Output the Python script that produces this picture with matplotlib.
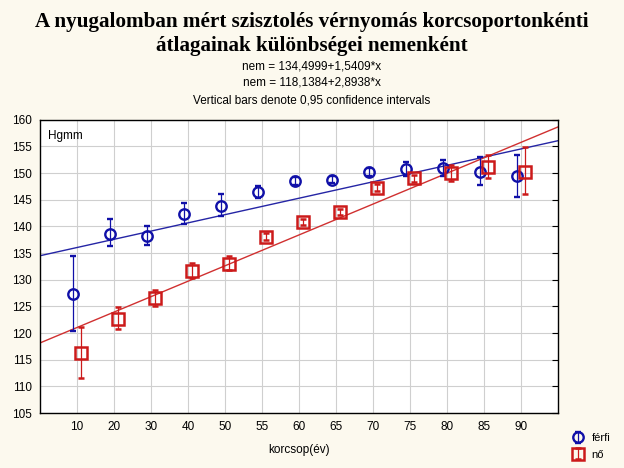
import matplotlib
matplotlib.use("Agg")
import matplotlib.pyplot as plt
import numpy as np

plt.rcParams["font.family"] = ["Liberation Sans", "DejaVu Sans"]

categories = ["10", "20", "30", "40", "50", "55", "60", "65", "70", "75", "80", "85", "90"]
men_mean = [127.3, 138.6, 138.2, 142.4, 143.9, 146.4, 148.5, 148.8, 150.2, 150.75, 150.9, 150.3, 149.4]
men_low = [120.4, 136.4, 136.5, 140.5, 142.0, 145.4, 147.8, 148.2, 149.5, 149.5, 149.4, 147.8, 145.5]
men_high = [134.4, 141.4, 140.1, 144.4, 146.1, 147.6, 149.2, 149.4, 150.9, 152.0, 152.4, 153.1, 153.4]
women_mean = [116.2, 122.6, 126.5, 131.6, 133.0, 138.05, 140.8, 142.7, 147.25, 149.05, 150.0, 151.1, 150.2]
women_low = [111.5, 120.7, 125.0, 130.3, 131.9, 137.4, 140.2, 142.1, 146.6, 148.4, 148.6, 149.0, 146.1]
women_high = [121.1, 124.9, 128.1, 133.2, 134.5, 138.7, 141.4, 143.3, 147.9, 149.7, 151.5, 153.4, 154.9]
men_fit = (134.4999, 1.5409)
women_fit = (118.1384, 2.8938)

bg = "#FCF9EE"
blue = "#1010A8"
red = "#CC1A1A"

fig = plt.figure(figsize=(6.24, 4.68), dpi=100, facecolor=bg)
ax = fig.add_axes([0.064, 0.1175, 0.83, 0.6265])
ax.set_facecolor("white")

idx = np.arange(1, len(categories) + 1)
xs = np.array([0, 14])
ax.plot(xs, men_fit[0] + men_fit[1] * xs, color="#2525A5", lw=1.0, zorder=2)
ax.plot(xs, women_fit[0] + women_fit[1] * xs, color="#D03030", lw=1.0, zorder=2)

m = np.array(men_mean)
w = np.array(women_mean)
h_men = ax.errorbar(idx - 0.1, m, yerr=[m - np.array(men_low), np.array(men_high) - m],
                    fmt="o", ms=7.5, mfc="none", mec=blue, mew=1.7, ecolor=blue,
                    elinewidth=0.9, capsize=2.2, capthick=0.9, zorder=4)
h_wom = ax.errorbar(idx + 0.1, w, yerr=[w - np.array(women_low), np.array(women_high) - w],
                    fmt="s", ms=8.5, mfc="none", mec=red, mew=1.8, ecolor=red,
                    elinewidth=0.9, capsize=2.2, capthick=0.9, zorder=4)

ax.set_xlim(0, 14)
ax.set_ylim(105, 160)
ax.set_xticks(idx)
ax.set_xticklabels(categories)
ax.set_yticks(np.arange(105, 161, 5))
ax.grid(True, color="#CFCFCF", lw=0.8)
ax.set_axisbelow(True)
ax.tick_params(axis="both", labelsize=8.5, length=0, pad=6)
ax.tick_params(axis="y", right=True, direction="in", length=4, color="black")
ax.tick_params(axis="y", left=False)
for s in ax.spines.values():
    s.set_color("black")
    s.set_linewidth(1.0)

ax.text(0.016, 0.965, "Hgmm", transform=ax.transAxes, fontsize=8.5, va="top", ha="left")
ax.set_xlabel("korcsop(év)", fontsize=8.5, labelpad=8)

fig.text(0.5, 0.953, "A nyugalomban mért szisztolés vérnyomás korcsoportonkénti",
         ha="center", va="center", fontsize=15.2, fontweight="bold", family="Liberation Serif")
fig.text(0.5, 0.901, "átlagainak különbségei nemenként",
         ha="center", va="center", fontsize=15.2, fontweight="bold", family="Liberation Serif")
fig.text(0.5, 0.857, "nem = 134,4999+1,5409*x", ha="center", va="center", fontsize=8.5)
fig.text(0.5, 0.824, "nem = 118,1384+2,8938*x", ha="center", va="center", fontsize=8.5)
fig.text(0.5, 0.786, "Vertical bars denote 0,95 confidence intervals", ha="center", va="center", fontsize=8.5)

leg = fig.legend([h_men, h_wom], ["férfi", "nő"], loc="lower left", bbox_to_anchor=(0.905, 0.008),
                 frameon=False, fontsize=8, handlelength=1.6, handletextpad=0.4,
                 labelspacing=0.6, borderaxespad=0.2, borderpad=0.2)

fig.savefig("out.png", dpi=100, facecolor=bg)
